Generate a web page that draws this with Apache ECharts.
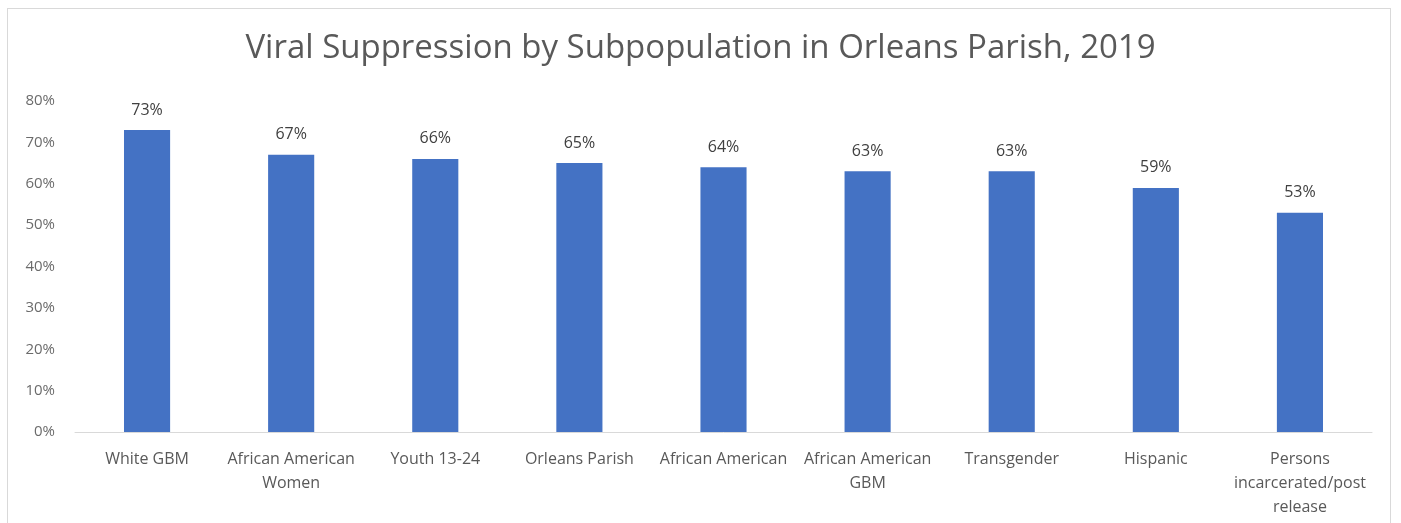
<!DOCTYPE html>
<html><head><meta charset="utf-8">
<script src="https://cdn.jsdelivr.net/npm/echarts@6/dist/echarts.min.js"></script>
<style>html,body{margin:0;padding:0;background:#fff;}#c{width:1401px;height:523px;}
#frame{position:absolute;left:7px;top:8px;width:1384px;height:520px;border:1px solid #d9d9d9;box-sizing:border-box;pointer-events:none;}</style>
</head><body><div id="c"></div><div id="frame"></div>
<script>
const categories = ['White GBM','African American\nWomen','Youth 13-24','Orleans Parish','African American','African American\nGBM','Transgender','Hispanic','Persons\nincarcerated/post\nrelease'];
const values = [73,67,66,65,64,63,63,59,53];
const yTicks = [0,10,20,30,40,50,60,70,80];
const chart = echarts.init(document.getElementById('c'));
chart.setOption({
  animation:false,
  title:{text:'Viral Suppression by Subpopulation in Orleans Parish, 2019',left:'center',top:27,
    textStyle:{fontFamily:'Open Sans',fontWeight:'normal',fontSize:33,color:'#595959'}},
  grid:{left:75,right:29,top:101,bottom:91,containLabel:false},
  xAxis:{type:'category',data:categories,
    axisLine:{lineStyle:{color:'#d9d9d9',width:1}},axisTick:{show:false},
    axisLabel:{interval:0,margin:15,fontFamily:'Open Sans',fontSize:16,color:'#595959',lineHeight:24}},
  yAxis:{type:'value',min:yTicks[0],max:yTicks[yTicks.length-1],interval:10,
    axisLine:{show:false},axisTick:{show:false},splitLine:{show:false},
    axisLabel:{formatter:v=>v+'%',margin:20,fontFamily:'Open Sans',fontSize:15,color:'#6b6b6b'}},
  series:[{type:'bar',data:values,barWidth:'32%',itemStyle:{color:'#4472c4'},
    label:{show:true,position:'top',distance:12,formatter:p=>p.value+'%',fontFamily:'Open Sans',fontSize:16,color:'#404040'}}]
});
</script></body></html>
